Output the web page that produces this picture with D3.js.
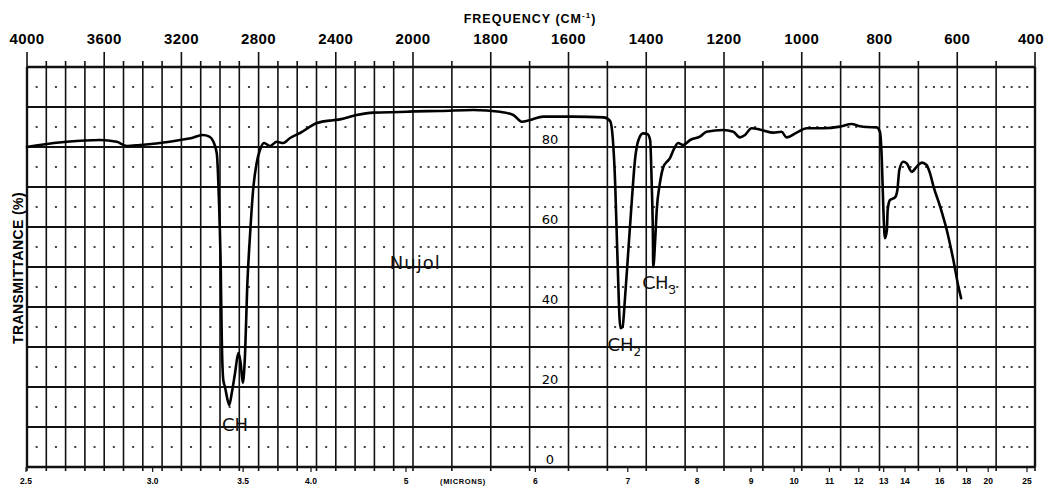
<!DOCTYPE html>
<html>
<head>
<meta charset="utf-8">
<script src="https://cdn.jsdelivr.net/npm/d3@7"></script>
<style>
    html, body { margin: 0; padding: 0; background: #fff; }
    svg { display: block; }
</style>
</head>
<body>
<svg width="1059" height="489"></svg>
<script>
// ---- Dados do espectro (Nujol)
const frequencias = [
    4000, 3933, 3794, 3622, 3535, 3483, 3415, 3311, 3207, 3151, 3090, 3055, 3036, 3017, 3005,
    2996, 2991, 2983, 2974, 2964, 2952, 2939, 2922, 2905, 2893, 2882, 2870, 2859, 2845, 2827,
    2810, 2793, 2772, 2741, 2706, 2672, 2637, 2585, 2497, 2415, 2378, 2292, 2206, 2033, 2000,
    1931, 1845, 1776, 1742, 1720, 1699, 1665, 1588, 1510, 1493, 1486, 1480, 1476, 1472, 1469,
    1466, 1461, 1455, 1446, 1437, 1429, 1420, 1408, 1397, 1390, 1386, 1383, 1382, 1377, 1373,
    1365, 1356, 1347, 1339, 1330, 1318, 1305, 1287, 1262, 1245, 1202, 1176, 1159, 1146, 1129,
    1103, 1073, 1052, 1039, 1013, 987, 945, 902, 872, 850, 833, 807, 799, 794, 790,
    786, 781, 779, 773, 760, 754, 749, 739, 730, 717, 704, 691, 679, 670, 661,
    644, 627, 610, 597, 590
];
const transmitancia = [
    80, 80.5, 81.3, 81.75, 81.3, 80.25, 80.5, 81, 81.75, 82.2, 83, 82.6, 81.5, 78.5, 66,
    49, 32.5, 21.75, 20, 17.5, 15.5, 18.5, 23.5, 28.5, 26, 21, 28.5, 45, 57.5, 70,
    76, 79.25, 81, 80.25, 81.3, 81, 82.25, 83.5, 86, 86.7, 86.9, 88, 88.6, 88.8, 88.9,
    89, 89.25, 88.8, 88, 86.3, 86.75, 87.6, 87.6, 87.4, 86.5, 82, 71, 58.5, 46, 37.6,
    34.7, 35, 41.75, 54.25, 66.75, 76.75, 81.75, 83.4, 83.25, 81.75, 70.9, 58.4, 50, 56.75, 64.25,
    70.9, 75, 76.3, 77.2, 79.25, 81, 80.5, 81.75, 82.6, 83.8, 84.25, 83.8, 82.4, 83, 84.7,
    84.25, 83.6, 83.8, 82.4, 83.6, 84.7, 84.7, 85.1, 85.75, 85.2, 85, 84.9, 83.8, 76.75, 64.25,
    57.2, 59.25, 64.25, 66.75, 67.4, 69.25, 74.25, 76.3, 75.9, 73.8, 75.1, 76.1, 75.5, 73.4, 70.1,
    65.1, 59.25, 51.75, 45.1, 42.2
];

// ---- Eixos
const freqLabels = [4000, 3600, 3200, 2800, 2400, 2000, 1800, 1600, 1400, 1200, 1000, 800, 600, 400];
const micronValues = [2.5, 3.0, 3.5, 4.0, 5, 6, 7, 8, 9, 10, 11, 12, 13, 14, 16, 18, 20, 25];
const micronLabels = ['2.5', '3.0', '3.5', '4.0', '5', '6', '7', '8', '9', '10', '11', '12', '13', '14', '16', '18', '20', '25'];
const transLabels = [80, 60, 40, 20, 0];

// ---- Anotações
const anotacoes = [
    { texto: 'CH', sub: '', freq: 2990, t: 9 },
    { texto: 'Nujol', sub: '', freq: 2120, t: 49.5 },
    { texto: 'CH', sub: '2', freq: 1500, t: 29 },
    { texto: 'CH', sub: '3', freq: 1410, t: 44.5 }
];

const svg = d3.select('svg');
const margens = { left: 27, right: 24, top: 67, bottom: 22 };
const W = 1059, H = 489;

// escala de frequência com mudança de escala em 2000 cm-1
const x = d3.scaleLinear()
    .domain([4000, 2000, 400])
    .range([margens.left, 413, W - margens.right]);

// escala de microns (papel ligeiramente deslocado)
const xMicron = d3.scaleLinear()
    .domain([4000, 2000, 400])
    .range([26, 406, 1027]);

const y = d3.scaleLinear()
    .domain([0, 100])
    .range([H - margens.bottom, margens.top]);

const cor = '#111';

// ---- Grade
const grade = svg.append('g').attr('id', 'grade');

const linhasV = d3.range(4000, 399, -100);
grade.selectAll('.vline')
    .data(linhasV)
    .join('line')
    .attr('class', 'vline')
    .attr('x1', d => x(d))
    .attr('x2', d => x(d))
    .attr('y1', d => freqLabels.includes(d) ? y(100) - 15 : y(100) - 6)
    .attr('y2', y(0) + 4)
    .style('stroke', cor)
    .style('stroke-width', 1.6);

const linhasH = d3.range(0, 101, 10);
grade.selectAll('.hline')
    .data(linhasH)
    .join('line')
    .attr('class', 'hline')
    .attr('x1', x(4000))
    .attr('x2', x(400))
    .attr('y1', d => y(d))
    .attr('y2', d => y(d))
    .style('stroke', cor)
    .style('stroke-width', d => (d === 0 || d === 100) ? 2.4 : 1.8);

// moldura lateral
grade.selectAll('.borda')
    .data([4000, 400])
    .join('line')
    .attr('class', 'borda')
    .attr('x1', d => x(d))
    .attr('x2', d => x(d))
    .attr('y1', y(100))
    .attr('y2', y(0))
    .style('stroke', cor)
    .style('stroke-width', 2.4);

// pontos pontilhados entre as linhas
const pontos = [];
d3.range(5, 100, 10).forEach(t => {
    d3.range(4000, 2000, -100).forEach(f => pontos.push([f - 50, t]));
    d3.range(2000, 400, -100).forEach(f => {
        [20, 40, 60, 80].forEach(o => pontos.push([f - o, t]));
    });
});
grade.selectAll('.ponto')
    .data(pontos)
    .join('rect')
    .attr('class', 'ponto')
    .attr('x', d => x(d[0]) - 1)
    .attr('y', d => y(d[1]) - 1)
    .attr('width', 2)
    .attr('height', 2)
    .style('fill', '#444');

// ---- Textos dos eixos
const fonte = '"Liberation Sans", Arial, sans-serif';

svg.append('text')
    .attr('x', 530)
    .attr('y', 23)
    .attr('text-anchor', 'middle')
    .style('font-family', fonte)
    .style('font-weight', 'bold')
    .style('font-size', '12.5px')
    .style('letter-spacing', '1px')
    .text('FREQUENCY (CM')
    .append('tspan')
    .attr('dy', -5)
    .style('font-size', '8px')
    .text('-1')
    .select(function() { return this.parentNode; })
    .append('tspan')
    .attr('dy', 5)
    .text(')');

svg.selectAll('.freqLabel')
    .data(freqLabels)
    .join('text')
    .attr('class', 'freqLabel')
    .attr('x', d => d === 400 ? x(d) - 4 : x(d))
    .attr('y', 44)
    .attr('text-anchor', 'middle')
    .style('font-family', fonte)
    .style('font-weight', 'bold')
    .style('font-size', '15px')
    .style('letter-spacing', '0.4px')
    .text(d => d);

svg.selectAll('.micronTick')
    .data(micronValues)
    .join('line')
    .attr('class', 'micronTick')
    .attr('x1', d => xMicron(10000 / d))
    .attr('x2', d => xMicron(10000 / d))
    .attr('y1', y(0))
    .attr('y2', y(0) + 5)
    .style('stroke', cor)
    .style('stroke-width', 1.2);

svg.selectAll('.micronLabel')
    .data(micronValues)
    .join('text')
    .attr('class', 'micronLabel')
    .attr('x', d => xMicron(10000 / d))
    .attr('y', 484)
    .attr('text-anchor', 'middle')
    .style('font-family', fonte)
    .style('font-weight', 'bold')
    .style('font-size', '8.5px')
    .text((d, i) => micronLabels[i]);

svg.append('text')
    .attr('x', 463)
    .attr('y', 484)
    .attr('text-anchor', 'middle')
    .style('font-family', fonte)
    .style('font-weight', 'bold')
    .style('font-size', '7.5px')
    .style('letter-spacing', '0.6px')
    .text('(MICRONS)');

svg.selectAll('.transLabel')
    .data(transLabels)
    .join('text')
    .attr('class', 'transLabel')
    .attr('x', 550)
    .attr('y', d => y(d) - 3)
    .attr('text-anchor', 'middle')
    .style('font-family', '"DejaVu Sans", sans-serif')
    .style('font-size', '13px')
    .text(d => d);

svg.append('text')
    .attr('transform', `translate(23, 268) rotate(-90)`)
    .attr('text-anchor', 'middle')
    .style('font-family', fonte)
    .style('font-weight', 'bold')
    .style('font-size', '14px')
    .style('letter-spacing', '0.4px')
    .text('TRANSMITTANCE (%)');

// ---- Espectro
const dados = frequencias.map((f, i) => ({ f: f, t: transmitancia[i] }));

const linha = d3.line()
    .x(d => x(d.f))
    .y(d => y(d.t))
    .curve(d3.curveMonotoneX);

svg.append('path')
    .datum(dados)
    .attr('d', linha)
    .style('fill', 'none')
    .style('stroke', '#000')
    .style('stroke-width', 2.6)
    .style('stroke-linejoin', 'round')
    .style('stroke-linecap', 'round');

// ---- Anotações
const rotulos = svg.selectAll('.anotacao')
    .data(anotacoes)
    .join('text')
    .attr('class', 'anotacao')
    .attr('x', d => x(d.freq))
    .attr('y', d => y(d.t))
    .style('font-family', '"DejaVu Sans", sans-serif')
    .style('font-size', '18px')
    .style('letter-spacing', d => d.texto === 'Nujol' ? '1px' : '0px')
    .style('fill', '#111')
    .text(d => d.texto);

rotulos.filter(d => d.sub !== '')
    .append('tspan')
    .attr('dy', 5)
    .style('font-size', '12px')
    .text(d => d.sub);
</script>
</body>
</html>
